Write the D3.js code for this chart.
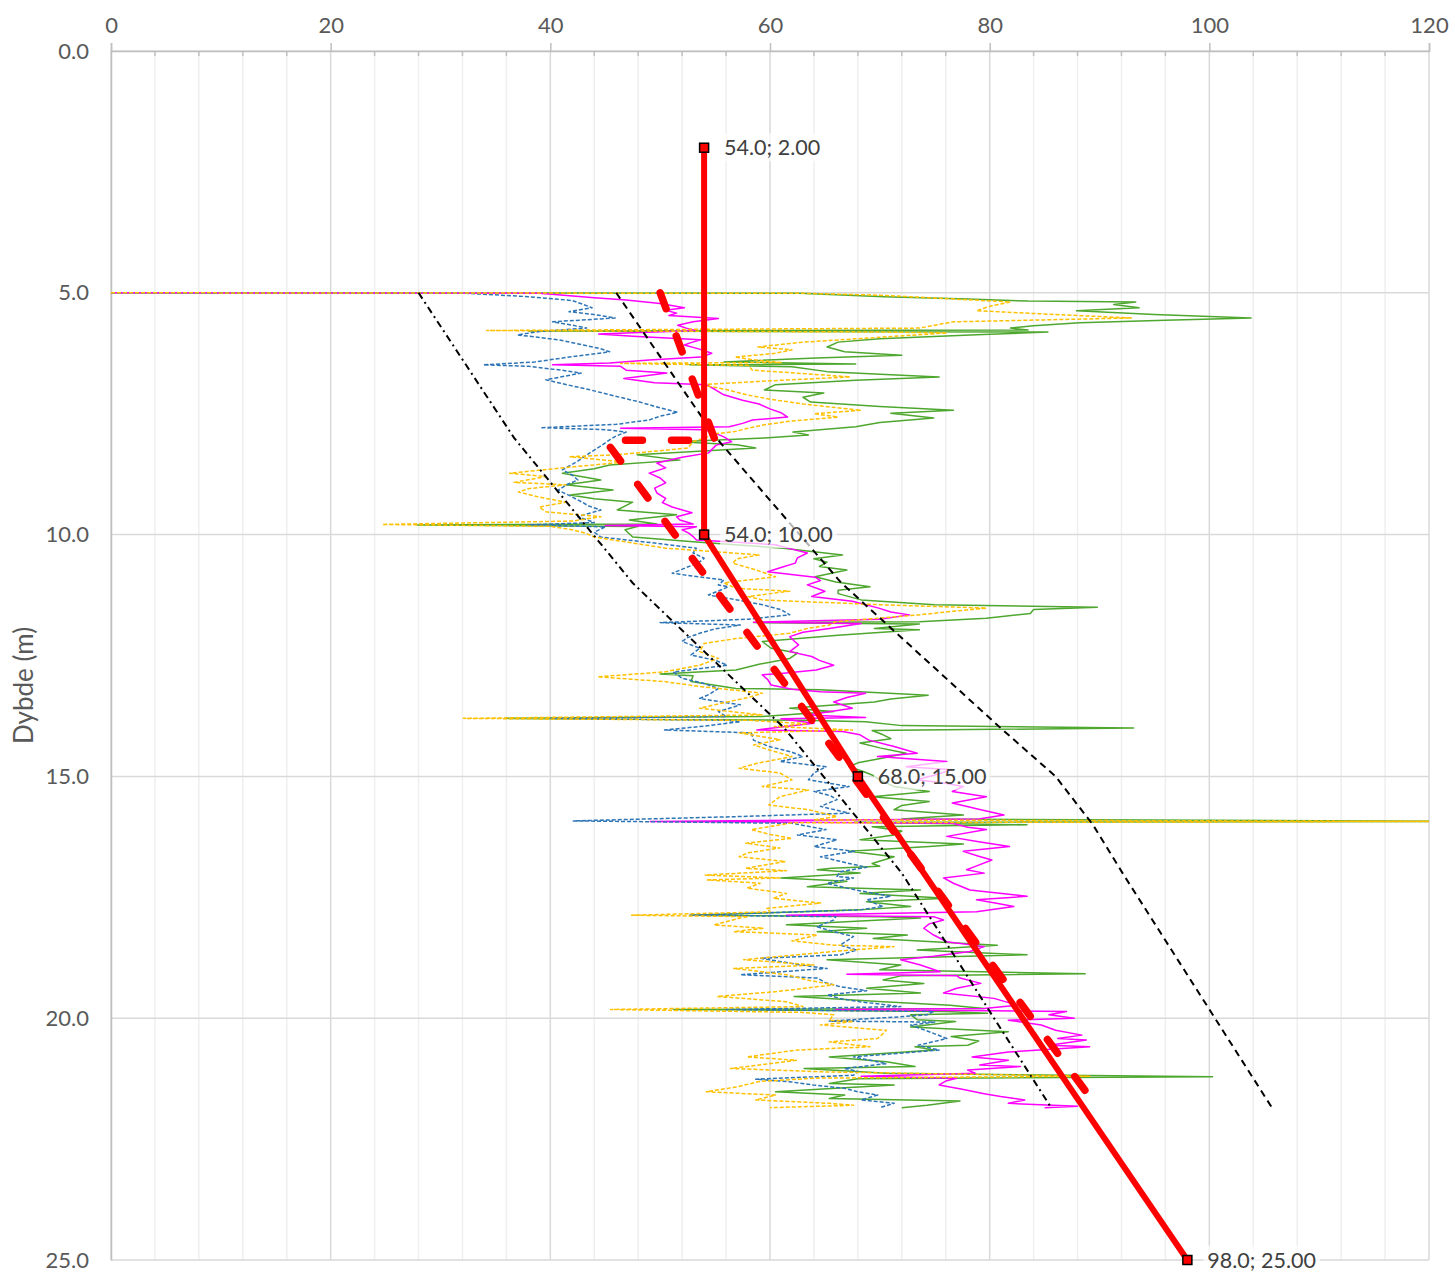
<!DOCTYPE html>
<html><head><meta charset="utf-8">
<script src="https://cdn.jsdelivr.net/npm/d3@7"></script>
<style>body{margin:0;background:#fff;} svg{display:block;font-family:Lato,"Open Sans",sans-serif;}</style>
</head><body><svg id="chart" width="1455" height="1281"></svg>
<script>
// ---- axis ticks ----
const xTicks = [0,20,40,60,80,100,120];
const xMinorTicks = d3.range(0,121,4);
const yTicks = [0,5,10,15,20,25];

// ---- CPT series: [depth (m), value] ----
const blueSeries = [[5.00,0],[5.01,32.3],[5.08,38],[5.16,42],[5.24,43],[5.31,43.8],[5.39,41.7],[5.45,44],[5.52,45.9],[5.60,40.2],[5.67,42],[5.73,43.3],[5.80,39],[5.87,37],[5.97,40.7],[6.08,43],[6.15,44.5],[6.22,45.4],[6.32,42],[6.43,38.6],[6.49,33.9],[6.52,38],[6.60,41],[6.66,42.8],[6.80,39.6],[6.90,41.5],[7.00,43.5],[7.11,45.4],[7.25,48],[7.38,50],[7.47,51.6],[7.55,50],[7.63,49],[7.72,46],[7.79,39.1],[7.83,45],[7.88,46.9],[7.96,46],[8.04,45.4],[8.18,44.5],[8.31,43.6],[8.48,42.5],[8.66,41.1],[8.77,42],[8.87,42.5],[8.97,41.5],[9.08,40.7],[9.20,41.8],[9.33,42.9],[9.41,43.5],[9.49,44.6],[9.63,42.5],[9.75,44],[9.80,38],[9.84,45],[9.95,44],[10.05,44.6],[10.18,49.7],[10.28,53.3],[10.38,53],[10.49,54],[10.58,53.5],[10.67,52.5],[10.80,51.1],[10.94,55.8],[11.04,55.3],[11.08,56.2],[11.25,54.4],[11.35,57],[11.45,59.3],[11.55,61],[11.66,61.8],[11.75,58],[11.82,50],[11.87,57.3],[11.95,55],[12.04,53.6],[12.13,52.5],[12.21,52],[12.35,53.6],[12.49,52.8],[12.60,55],[12.70,56.1],[12.84,51.2],[12.97,52],[13.08,54],[13.18,55.3],[13.30,54.5],[13.39,53.6],[13.52,57.3],[13.66,55.3],[13.76,56],[13.80,40],[13.84,56],[13.87,57.3],[13.96,54],[14.04,50.4],[14.10,58.3],[14.25,58.5],[14.38,59.9],[14.50,62],[14.59,63],[14.69,60.9],[14.80,65.1],[14.93,64],[15.07,63.5],[15.21,67.2],[15.31,64],[15.40,65.5],[15.48,66.1],[15.62,64.6],[15.76,67.2],[15.83,57.2],[15.92,42.1],[15.97,62],[16.10,65.1],[16.21,62.5],[16.31,66.1],[16.45,64],[16.55,67.7],[16.66,64.6],[16.80,67.2],[16.88,68.8],[16.97,66.4],[17.07,66.1],[17.10,67.6],[17.21,65.2],[17.31,67],[17.40,69],[17.48,71],[17.55,68.8],[17.62,69.5],[17.69,70.3],[17.76,68.2],[17.87,52.7],[17.90,66],[17.97,65.8],[18.04,65],[18.11,64.3],[18.21,65.8],[18.31,67.6],[18.40,67],[18.49,66.4],[18.59,67.9],[18.69,66.4],[18.76,59.1],[18.83,61],[18.90,62.8],[18.97,65.2],[19.04,61],[19.10,57.3],[19.17,64.3],[19.26,65],[19.35,66.4],[19.43,68.8],[19.52,65.2],[19.60,66.5],[19.66,68.2],[19.76,71.9],[19.82,56],[19.86,74.9],[19.93,74.3],[19.97,71.9],[20.06,65.4],[20.08,75],[20.14,72.8],[20.28,74.5],[20.42,76.1],[20.56,73.5],[20.66,75.4],[20.80,67.6],[20.94,70.6],[21.04,66.8],[21.10,68],[21.18,67.6],[21.26,58.7],[21.32,62],[21.38,63.9],[21.45,66.8],[21.52,68],[21.59,69.8],[21.69,68.3],[21.76,71.3],[21.85,70]];

const orangeSeries = [[5.00,0],[5.01,63],[5.05,70],[5.12,76],[5.19,81.9],[5.28,80],[5.37,78.8],[5.45,86],[5.52,92.9],[5.56,85],[5.60,76.7],[5.67,75],[5.73,73.6],[5.78,34.2],[5.81,70],[5.83,76.1],[5.92,70],[6.02,63],[6.12,58.9],[6.18,62],[6.25,60.5],[6.33,56.8],[6.40,59],[6.44,61],[6.46,46.4],[6.50,58],[6.60,58.4],[6.67,63],[6.74,67.3],[6.82,60],[6.90,53.7],[7.00,56],[7.11,57.9],[7.20,60],[7.30,63],[7.43,68.3],[7.50,64],[7.57,66.2],[7.65,62],[7.73,59.5],[7.80,58],[7.87,56.8],[7.94,54],[7.98,54.3],[8.08,53],[8.21,52.5],[8.35,46.1],[8.39,41.8],[8.50,46.8],[8.60,42],[8.73,36.3],[8.80,39.6],[8.92,36.7],[8.97,41.4],[9.05,38],[9.12,37.1],[9.22,38.9],[9.33,41.4],[9.43,39],[9.53,39.6],[9.63,44.6],[9.72,42],[9.79,24.7],[9.83,40],[9.90,42],[9.97,43.2],[10.05,44],[10.15,46.8],[10.28,50.5],[10.42,59],[10.50,57],[10.59,56.6],[10.73,58.7],[10.87,60.5],[11.00,55.8],[11.11,56.9],[11.17,61.8],[11.28,58],[11.35,59.3],[11.45,70],[11.52,79.7],[11.60,76],[11.66,73.6],[11.80,66],[11.87,65.4],[11.94,63.4],[12.04,61.8],[12.15,56.9],[12.25,54],[12.42,53.6],[12.56,55.3],[12.70,53.6],[12.84,50.4],[12.94,44.3],[13.04,50.4],[13.14,53.6],[13.28,59.3],[13.37,58],[13.46,56.1],[13.59,53.6],[13.73,59.3],[13.80,32.1],[13.84,58],[13.91,63.4],[13.97,60.4],[14.04,67.5],[14.10,57.2],[14.24,60.9],[14.35,58.5],[14.45,59.9],[14.59,62],[14.73,58.8],[14.83,57.2],[14.93,60.9],[15.07,62],[15.21,59.3],[15.28,63.5],[15.42,60.9],[15.59,59.9],[15.69,63.5],[15.83,66.1],[15.90,64],[15.93,121],[15.96,62],[16.10,58.3],[16.20,60],[16.28,62],[16.38,57.8],[16.48,60.9],[16.58,58],[16.66,57.2],[16.76,61.4],[16.90,57.8],[16.95,61.5],[17.04,54.1],[17.10,60.9],[17.14,54.3],[17.21,59.1],[17.31,57.9],[17.42,61.5],[17.52,60.3],[17.62,64.6],[17.73,59.7],[17.80,60],[17.87,47.4],[17.90,58],[17.93,57.3],[18.07,54.9],[18.14,59.4],[18.21,56.7],[18.28,64.3],[18.40,62],[18.49,65.8],[18.52,71.3],[18.62,65.8],[18.79,57.6],[18.90,64],[18.97,56.7],[19.10,61.5],[19.21,63.4],[19.31,65.8],[19.45,60.6],[19.55,55.2],[19.66,61.5],[19.76,63],[19.82,45.5],[19.88,63],[19.93,65.8],[20.04,65.4],[20.07,67.6],[20.14,64.6],[20.25,70.6],[20.42,69.8],[20.49,65.4],[20.59,69.1],[20.66,62.4],[20.80,57.9],[20.87,62.4],[21.04,56.4],[21.11,65],[21.20,89.1],[21.24,64],[21.31,59],[21.42,57],[21.52,54.2],[21.59,60.5],[21.69,58.7],[21.76,65.4],[21.80,67.6],[21.85,60]];

const greenSeries = [[5.00,0],[5.01,62.7],[5.08,70.4],[5.13,78],[5.17,83.5],[5.19,93.3],[5.24,91.3],[5.31,93.6],[5.37,87.9],[5.45,95],[5.52,103.8],[5.57,96],[5.62,88.2],[5.68,84],[5.73,81.9],[5.77,83.5],[5.79,38],[5.81,85.3],[5.87,78.8],[5.95,70],[6.02,66.2],[6.12,65.2],[6.22,66.8],[6.29,72],[6.35,64.2],[6.43,55.8],[6.47,67.8],[6.49,52.7],[6.53,62],[6.63,65.2],[6.74,75.4],[6.81,67.8],[6.90,60.5],[7.01,59.5],[7.07,64.9],[7.16,63],[7.26,63.7],[7.35,70],[7.43,76.7],[7.49,71],[7.59,74.9],[7.68,70],[7.77,67.8],[7.88,62.1],[7.94,63.5],[8.00,59.5],[8.08,51.6],[8.14,57],[8.21,58.7],[8.35,47.9],[8.46,51.8],[8.56,45.4],[8.64,44],[8.73,41.1],[8.87,44.6],[8.97,41.4],[9.08,45.7],[9.18,41.8],[9.26,44],[9.33,47.5],[9.49,46.1],[9.59,51.5],[9.70,47.2],[9.78,49.7],[9.80,27.9],[9.83,48],[9.90,46.8],[10.05,47.5],[10.16,53.6],[10.28,61.2],[10.42,66.6],[10.50,64],[10.57,65.2],[10.66,64.5],[10.73,67],[10.87,64.1],[10.98,66],[11.08,69.1],[11.15,66.2],[11.22,66.2],[11.35,68.3],[11.45,75],[11.50,89.8],[11.55,84],[11.63,83.7],[11.73,79.7],[11.80,73.6],[11.82,58.5],[11.85,73.6],[11.94,69.5],[11.97,73.6],[12.08,66.2],[12.21,59.3],[12.35,60.1],[12.45,62.5],[12.56,61.8],[12.68,59],[12.80,56.9],[12.88,50],[12.92,53],[13.04,52.8],[13.18,56.9],[13.21,64.6],[13.32,74.4],[13.40,71],[13.46,69.5],[13.59,61.8],[13.66,65.8],[13.76,59.3],[13.80,35.9],[13.84,63],[13.87,68.7],[13.95,72],[14.00,93.1],[14.05,69.3],[14.14,70.3],[14.22,71],[14.31,68.2],[14.41,70],[14.52,72.4],[14.62,70.3],[14.72,68],[14.80,67.2],[14.90,68.5],[14.97,69.3],[15.07,70],[15.21,71.3],[15.31,74.5],[15.42,69.3],[15.52,74.5],[15.60,72],[15.69,71.3],[15.80,77.6],[15.88,72],[15.93,121],[15.95,67.7],[16.00,83.4],[16.04,69.3],[16.13,72],[16.21,71.3],[16.31,68.2],[16.40,77.6],[16.45,74.5],[16.55,67.2],[16.66,71.3],[16.80,69.3],[16.86,70],[16.90,65.6],[16.93,64.3],[17.00,68.2],[17.10,61],[17.17,67],[17.28,63.4],[17.35,73.7],[17.42,68.2],[17.52,76.1],[17.59,68.8],[17.69,72.8],[17.76,68.2],[17.87,52.7],[17.90,70],[17.93,73.7],[18.07,61.5],[18.14,68.8],[18.21,64.3],[18.28,72.5],[18.35,69.4],[18.49,80.7],[18.59,73.4],[18.69,83.4],[18.79,65.2],[18.90,71.9],[19.00,70],[19.08,88.7],[19.12,72],[19.21,70.3],[19.28,74],[19.38,68.8],[19.48,73.7],[19.55,62.2],[19.66,70.3],[19.73,76.4],[19.80,79.5],[19.82,51.2],[19.86,76],[19.90,79.8],[19.93,72.8],[20.03,73.4],[20.07,76.9],[20.18,72.8],[20.28,81.7],[20.38,76.5],[20.47,79],[20.56,78],[20.59,73.2],[20.66,75],[20.80,65.4],[20.90,70.6],[21.00,73.2],[21.04,63.1],[21.14,70.6],[21.21,100.3],[21.25,68],[21.35,65.4],[21.38,71.3],[21.45,66],[21.52,60.5],[21.59,66.8],[21.66,65.4],[21.71,77.3],[21.80,74.3],[21.85,72]];

const magentaSeries = [[5.00,0],[5.01,39],[5.10,44],[5.15,46.9],[5.22,50],[5.31,52.2],[5.36,50.5],[5.42,51.5],[5.47,50.8],[5.53,55.3],[5.60,53],[5.67,51.6],[5.74,52.5],[5.78,53.2],[5.85,44.4],[5.90,47.5],[5.97,53.7],[6.03,52.8],[6.08,52.2],[6.16,53.5],[6.25,54.7],[6.33,53.7],[6.39,49],[6.45,45.4],[6.49,40.2],[6.52,46.4],[6.60,46.9],[6.66,50.6],[6.72,48.5],[6.77,46.7],[6.86,49.5],[6.90,54.2],[7.00,55],[7.11,55.8],[7.22,57.5],[7.30,59],[7.40,60],[7.48,61],[7.57,61.6],[7.63,58.4],[7.70,57.5],[7.77,56.3],[7.80,46.4],[7.83,54],[7.87,54.7],[7.98,55.8],[8.08,56.5],[8.15,55.1],[8.31,54.4],[8.40,52],[8.52,49.7],[8.62,50.5],[8.73,49],[8.83,50],[8.93,50.5],[9.04,49.5],[9.14,49.7],[9.25,50.5],[9.34,50.2],[9.43,51.1],[9.55,52.9],[9.63,51.5],[9.70,51.8],[9.78,53],[9.81,45],[9.84,53.3],[9.90,52],[9.97,52.6],[10.04,53],[10.11,53.3],[10.16,57],[10.21,60.5],[10.30,62],[10.38,63.4],[10.48,62.5],[10.59,62.3],[10.68,61],[10.77,59.8],[10.88,64.1],[10.95,64.6],[11.04,63.4],[11.17,65],[11.28,63.8],[11.38,67.5],[11.52,69.9],[11.60,71],[11.66,72.7],[11.75,70],[11.81,58.5],[11.84,68.3],[11.94,65.4],[12.02,63],[12.11,61.8],[12.20,62.2],[12.28,62.6],[12.42,61.8],[12.52,63.8],[12.60,64.5],[12.70,65.8],[12.80,64.2],[12.87,61],[12.90,59.3],[13.00,59.8],[13.11,60.1],[13.20,62],[13.25,64.6],[13.28,68.7],[13.37,67],[13.46,65.8],[13.59,67.5],[13.73,63.4],[13.78,68.7],[13.81,61],[13.90,64],[14.04,58.8],[14.07,66.6],[14.14,68.2],[14.25,69],[14.38,71.3],[14.52,73.4],[14.59,69.8],[14.69,76.1],[14.80,72.4],[14.86,76.6],[14.97,75],[15.07,73.4],[15.14,76],[15.21,77.6],[15.31,76.6],[15.42,79.7],[15.55,76.6],[15.68,79],[15.80,81.3],[15.88,79],[15.93,49.1],[15.97,76.6],[16.05,78],[16.10,79.7],[16.24,76.1],[16.35,79],[16.45,81.8],[16.55,77.6],[16.65,79],[16.73,80.2],[16.86,78.7],[16.93,77.9],[17.00,79.5],[17.10,75.8],[17.21,76.7],[17.35,78.2],[17.48,83.4],[17.55,78.8],[17.62,80.5],[17.69,82.2],[17.80,78.8],[17.87,61.5],[17.90,74.9],[17.97,75.8],[18.05,74.5],[18.14,74],[18.28,74.9],[18.42,76.1],[18.52,79.5],[18.62,78.2],[18.72,74.9],[18.79,71.9],[18.90,73.7],[19.04,75.5],[19.09,67],[19.12,77],[19.17,77.3],[19.28,79.2],[19.38,77],[19.48,75.8],[19.59,80.4],[19.73,82.5],[19.80,79.5],[19.82,66],[19.86,87],[19.93,85.4],[20.00,87.7],[20.04,81.7],[20.14,84.7],[20.25,86],[20.35,88.4],[20.42,86.2],[20.45,88.8],[20.56,85.4],[20.59,89.1],[20.70,81.7],[20.80,78.4],[20.87,81.7],[20.97,79.1],[21.00,82.8],[21.07,78],[21.14,78.7],[21.20,68.3],[21.24,77],[21.30,76],[21.38,75.4],[21.47,77.5],[21.56,79.5],[21.62,81],[21.69,83.2],[21.76,81.7],[21.82,88],[21.85,85]];

// ---- reference lines: [depth (m), value] ----
const redSolid = [[2,54],[10,54],[15,68],[25,98]];
const redDashed = [[5,50],[8.05,55],[8.05,45],[21.9,90]];
const blackDashed = [[5,46],[8,55.1],[11,66.5],[14,81],[15,86],[16,89.4],[17,92.1],[21.85,105.7]];
const blackDashDot = [[5,28],[8,36.7],[11,47.5],[14,61.3],[17,72],[20,80.4],[21.85,85.6]];

const plot = {left:111, right:1429, top:51, bottom:1260};
const svg = d3.select('#chart');
const x = d3.scaleLinear().domain([0,120]).range([plot.left, plot.right]);
const y = d3.scaleLinear().domain([0,25]).range([plot.top, plot.bottom]);

svg.append('defs').append('clipPath').attr('id','clip')
  .append('rect').attr('x',plot.left).attr('y',plot.top-2)
  .attr('width',plot.right-plot.left).attr('height',plot.bottom-plot.top+4);

// minor vertical gridlines
svg.append('g').selectAll('line').data(xMinorTicks.filter(t=>t%20!==0)).join('line')
  .attr('x1',d=>x(d)).attr('x2',d=>x(d)).attr('y1',plot.top).attr('y2',plot.bottom)
  .attr('stroke','#efefef').attr('stroke-width',1.5);
// major gridlines
svg.append('g').selectAll('line').data(xTicks).join('line')
  .attr('x1',d=>x(d)).attr('x2',d=>x(d)).attr('y1',plot.top).attr('y2',plot.bottom)
  .attr('stroke','#d9d9d9').attr('stroke-width',1.5);
svg.append('g').selectAll('line').data(yTicks).join('line')
  .attr('x1',plot.left).attr('x2',plot.right).attr('y1',d=>y(d)).attr('y2',d=>y(d))
  .attr('stroke','#d9d9d9').attr('stroke-width',1.5);

// axes
const xAxis = d3.axisTop(x).tickValues(xTicks).tickSize(8).tickPadding(10);
const gx = svg.append('g').attr('transform',`translate(0,${plot.top})`).call(xAxis);
gx.select('.domain').attr('stroke','#bfbfbf').attr('stroke-width',1.5);
gx.selectAll('.tick line').attr('stroke','#bfbfbf').attr('stroke-width',1.5);
gx.selectAll('.tick text').attr('fill','#595959').style('font-size','22px').style('font-family','Lato');
// minor inside ticks
svg.append('g').selectAll('line').data(xMinorTicks.filter(t=>t%20!==0)).join('line')
  .attr('x1',d=>x(d)).attr('x2',d=>x(d)).attr('y1',plot.top).attr('y2',plot.top+5)
  .attr('stroke','#bfbfbf').attr('stroke-width',1.5);

const yAxis = d3.axisLeft(y).tickValues(yTicks).tickSize(0).tickPadding(22).tickFormat(d3.format('.1f'));
const gy = svg.append('g').attr('transform',`translate(${plot.left},0)`).call(yAxis);
gy.select('.domain').attr('stroke','#bfbfbf').attr('stroke-width',1.5);
gy.selectAll('.tick text').attr('fill','#595959').style('font-size','22px').style('font-family','Lato');

svg.append('text').attr('transform',`translate(33,${(plot.top+plot.bottom)/2+30}) rotate(-90)`)
  .attr('text-anchor','middle').attr('fill','#595959').style('font-size','26px').text('Dybde (m)');

const line = d3.line().x(d=>x(d[1])).y(d=>y(d[0]));
const gData = svg.append('g').attr('clip-path','url(#clip)');
const seriesDefs = [
  {data:greenSeries, color:'#4ea72e', dash:null},
  {data:magentaSeries, color:'#ff00ff', dash:null},
  {data:blueSeries, color:'#2e75b6', dash:'4,2'},
  {data:orangeSeries, color:'#ffc000', dash:'4,2'}
];
seriesDefs.forEach(s=>{
  gData.append('path').datum(s.data).attr('d',line).attr('fill','none')
    .attr('stroke',s.color).attr('stroke-width',1.5).attr('stroke-linejoin','round')
    .attr('stroke-dasharray',s.dash);
});

// reference lines
svg.append('path').datum(blackDashDot).attr('d',line).attr('fill','none')
  .attr('stroke','#000').attr('stroke-width',2).attr('stroke-dasharray','7,4,2,4');
svg.append('path').datum(blackDashed).attr('d',line).attr('fill','none')
  .attr('stroke','#000').attr('stroke-width',2).attr('stroke-dasharray','7,5');
svg.append('path').datum(redDashed).attr('d',line).attr('fill','none')
  .attr('stroke','#ff0000').attr('stroke-width',7.5).attr('stroke-linecap','round')
  .attr('stroke-dasharray','17,29');
svg.append('path').datum(redSolid).attr('d',line).attr('fill','none')
  .attr('stroke','#ff0000').attr('stroke-width',6);

// labels
const lab = svg.append('g');
redSolid.forEach(d=>{
  const t = lab.append('text').attr('x',x(d[1])+20).attr('y',y(d[0])).attr('dy','0.35em')
    .attr('fill','#404040').style('font-size','21.5px').text(`${d[1].toFixed(1)}; ${d[0].toFixed(2)}`);
  const bb = t.node().getBBox();
  lab.insert('rect','text').attr('x',bb.x-4).attr('y',bb.y-1).attr('width',bb.width+8).attr('height',bb.height+2)
    .attr('fill','#fff').attr('fill-opacity',0.7);
});
// markers
svg.append('g').selectAll('rect').data(redSolid).join('rect')
  .attr('x',d=>x(d[1])-4.5).attr('y',d=>y(d[0])-4.5).attr('width',9).attr('height',9)
  .attr('fill','#ff0000').attr('stroke','#000').attr('stroke-width',1.5);
</script></body></html>
